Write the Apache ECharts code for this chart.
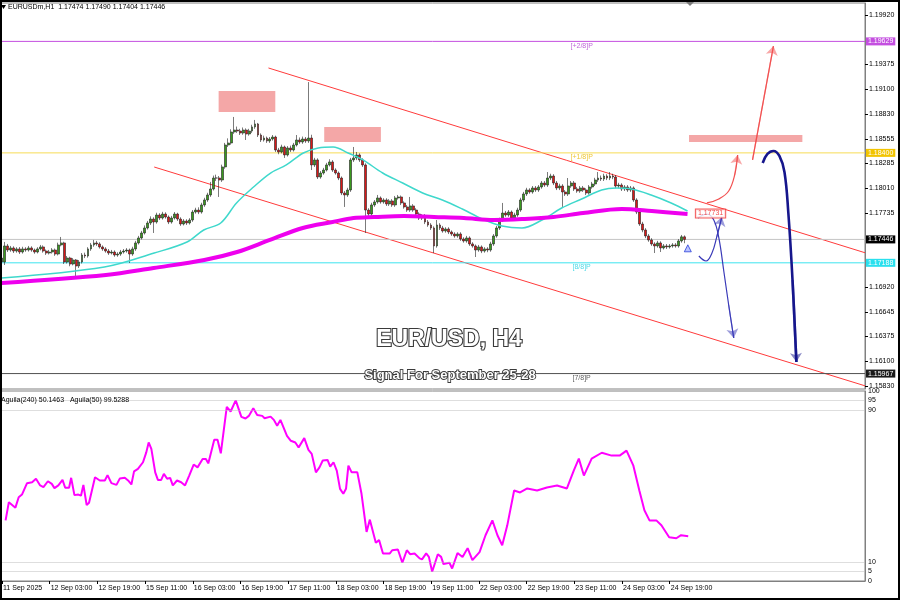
<!DOCTYPE html>
<html><head><meta charset="utf-8">
<script src="https://cdn.jsdelivr.net/npm/echarts@6/dist/echarts.min.js"></script>
<style>html,body{margin:0;padding:0;background:#fff}#c{width:900px;height:600px}</style>
</head><body><div id="c"></div>
<script>
// ---------- DATA ----------
const opens=[1.17197,1.17197,1.17374,1.17329,1.17352,1.17318,1.17341,1.17307,1.17341,1.17329,
1.17352,1.17329,1.17307,1.17341,1.17363,1.17318,1.17296,1.17307,1.17329,1.17285,
1.17385,1.17407,1.17197,1.17241,1.17175,1.17219,1.17153,1.17197,1.17274,1.17263,
1.17341,1.17385,1.17407,1.17396,1.17363,1.17341,1.17318,1.17296,1.17307,1.17274,
1.17285,1.17307,1.17318,1.17329,1.17285,1.17341,1.17407,1.17462,1.17517,1.17572,
1.17627,1.17671,1.17638,1.17715,1.17682,1.17726,1.17693,1.17638,1.17682,1.17726,
1.17671,1.17616,1.17649,1.17627,1.17660,1.17748,1.17770,1.17748,1.17826,1.17881,
1.17936,1.18002,1.18123,1.18123,1.18101,1.18245,1.18487,1.18509,1.18630,1.18652,
1.18641,1.18619,1.18652,1.18608,1.18641,1.18686,1.18719,1.18597,1.18542,1.18564,
1.18531,1.18553,1.18575,1.18432,1.18410,1.18465,1.18377,1.18454,1.18432,1.18487,
1.18542,1.18520,1.18553,1.18531,1.18564,1.18267,1.18322,1.18134,1.18178,1.18211,
1.18267,1.18300,1.18211,1.18178,1.18123,1.17958,1.17936,1.17991,1.18322,1.18344,
1.18377,1.18322,1.18267,1.17770,1.17726,1.17826,1.17859,1.17903,1.17859,1.17881,
1.17837,1.17870,1.17826,1.17903,1.17914,1.17848,1.17804,1.17770,1.17815,1.17770,
1.17726,1.17682,1.17704,1.17638,1.17605,1.17572,1.17374,1.17605,1.17572,1.17539,
1.17561,1.17528,1.17506,1.17484,1.17506,1.17451,1.17429,1.17462,1.17396,1.17374,
1.17329,1.17363,1.17318,1.17341,1.17329,1.17396,1.17484,1.17572,1.17660,1.17737,
1.17715,1.17748,1.17682,1.17715,1.17770,1.17881,1.17947,1.17991,1.17969,1.18013,
1.17991,1.18024,1.18068,1.18046,1.18123,1.18145,1.18068,1.18013,1.18035,1.17969,
1.17947,1.18035,1.18068,1.18002,1.17980,1.18013,1.17991,1.17958,1.18024,1.18057,
1.18101,1.18123,1.18112,1.18145,1.18123,1.18145,1.18134,1.18035,1.18046,1.18002,
1.18024,1.17991,1.18013,1.17881,1.17748,1.17616,1.17550,1.17484,1.17440,1.17396,
1.17374,1.17407,1.17352,1.17374,1.17363,1.17374,1.17385,1.17374,1.17429,1.17474];
const highs=[1.17263,1.17418,1.17396,1.17374,1.17370,1.17360,1.17362,1.17365,1.17360,1.17374,
1.17370,1.17345,1.17360,1.17385,1.17380,1.17335,1.17330,1.17350,1.17345,1.17410,
1.17473,1.17420,1.17263,1.17255,1.17240,1.17230,1.17219,1.17296,1.17300,1.17360,
1.17407,1.17440,1.17430,1.17415,1.17380,1.17360,1.17340,1.17330,1.17325,1.17305,
1.17330,1.17340,1.17350,1.17345,1.17365,1.17430,1.17485,1.17540,1.17600,1.17650,
1.17700,1.17690,1.17740,1.17735,1.17750,1.17745,1.17710,1.17705,1.17748,1.17740,
1.17690,1.17670,1.17668,1.17680,1.17770,1.17795,1.17800,1.17850,1.17905,1.17960,
1.18080,1.18150,1.18160,1.18145,1.18270,1.18510,1.18560,1.18660,1.18796,1.18690,
1.18665,1.18680,1.18670,1.18665,1.18710,1.18763,1.18730,1.18615,1.18590,1.18580,
1.18575,1.18597,1.18590,1.18455,1.18490,1.18480,1.18475,1.18480,1.18510,1.18597,
1.18570,1.18580,1.18575,1.19181,1.18600,1.18345,1.18340,1.18200,1.18235,1.18290,
1.18330,1.18320,1.18230,1.18195,1.18140,1.17980,1.18015,1.18345,1.18465,1.18410,
1.18395,1.18340,1.18285,1.17790,1.17850,1.17880,1.17936,1.17920,1.17900,1.17900,
1.17890,1.17890,1.17925,1.17936,1.17930,1.17865,1.17825,1.17914,1.17835,1.17790,
1.17745,1.17725,1.17725,1.17660,1.17625,1.17590,1.17660,1.17625,1.17595,1.17580,
1.17580,1.17545,1.17525,1.17525,1.17525,1.17470,1.17485,1.17480,1.17415,1.17390,
1.17385,1.17380,1.17360,1.17360,1.17420,1.17505,1.17595,1.17685,1.17848,1.17760,
1.17770,1.17765,1.17740,1.17795,1.17905,1.17970,1.18015,1.18010,1.18035,1.18035,
1.18045,1.18090,1.18090,1.18189,1.18170,1.18165,1.18090,1.18060,1.18055,1.17990,
1.18123,1.18090,1.18090,1.18025,1.18035,1.18035,1.18010,1.18045,1.18080,1.18125,
1.18189,1.18150,1.18170,1.18165,1.18189,1.18170,1.18155,1.18070,1.18065,1.18045,
1.18045,1.18035,1.18030,1.17900,1.17765,1.17640,1.17570,1.17505,1.17460,1.17415,
1.17430,1.17425,1.17395,1.17395,1.17395,1.17405,1.17405,1.17450,1.17495,1.17490];
const lows=[1.17175,1.17164,1.17307,1.17310,1.17296,1.17300,1.17285,1.17290,1.17310,1.17312,
1.17310,1.17288,1.17292,1.17325,1.17300,1.17275,1.17280,1.17290,1.17265,1.17270,
1.17370,1.17175,1.17180,1.17150,1.17160,1.17032,1.17131,1.17180,1.17240,1.17245,
1.17320,1.17365,1.17375,1.17345,1.17320,1.17300,1.17275,1.17280,1.17255,1.17255,
1.17265,1.17290,1.17300,1.17186,1.17265,1.17320,1.17390,1.17445,1.17500,1.17555,
1.17605,1.17517,1.17620,1.17660,1.17665,1.17675,1.17615,1.17620,1.17665,1.17650,
1.17595,1.17600,1.17605,1.17610,1.17640,1.17730,1.17725,1.17730,1.17805,1.17860,
1.17915,1.17985,1.18090,1.17914,1.18080,1.18225,1.18465,1.18490,1.18610,1.18620,
1.18597,1.18600,1.18542,1.18590,1.18620,1.18665,1.18575,1.18520,1.18525,1.18510,
1.18510,1.18535,1.18410,1.18385,1.18395,1.18344,1.18360,1.18410,1.18415,1.18470,
1.18500,1.18500,1.18510,1.18510,1.18211,1.18245,1.18112,1.18115,1.18160,1.18195,
1.18250,1.18190,1.18160,1.18100,1.17935,1.17804,1.17915,1.17970,1.18300,1.18320,
1.18300,1.18245,1.17517,1.17700,1.17705,1.17805,1.17840,1.17840,1.17840,1.17815,
1.17815,1.17805,1.17805,1.17885,1.17825,1.17785,1.17750,1.17750,1.17750,1.17705,
1.17660,1.17660,1.17615,1.17585,1.17550,1.17296,1.17355,1.17550,1.17520,1.17520,
1.17505,1.17485,1.17465,1.17465,1.17430,1.17410,1.17410,1.17375,1.17355,1.17252,
1.17310,1.17295,1.17300,1.17305,1.17310,1.17375,1.17465,1.17550,1.17640,1.17695,
1.17695,1.17655,1.17665,1.17695,1.17750,1.17860,1.17925,1.17950,1.17950,1.17970,
1.17970,1.18005,1.18025,1.18025,1.18100,1.18045,1.17990,1.17990,1.17804,1.17925,
1.17925,1.18015,1.17980,1.17960,1.17960,1.17970,1.17935,1.17940,1.18005,1.18035,
1.18080,1.18090,1.18090,1.18100,1.18100,1.18110,1.18010,1.18010,1.17980,1.17980,
1.17970,1.17970,1.17860,1.17725,1.17595,1.17525,1.17460,1.17420,1.17375,1.17296,
1.17355,1.17307,1.17335,1.17340,1.17345,1.17355,1.17355,1.17355,1.17410,1.17404];
const closes=[1.17241,1.17374,1.17329,1.17352,1.17318,1.17341,1.17307,1.17341,1.17329,1.17352,
1.17329,1.17307,1.17341,1.17363,1.17318,1.17296,1.17307,1.17329,1.17285,1.17385,
1.17407,1.17197,1.17241,1.17175,1.17219,1.17153,1.17197,1.17274,1.17263,1.17341,
1.17385,1.17407,1.17396,1.17363,1.17341,1.17318,1.17296,1.17307,1.17274,1.17285,
1.17307,1.17318,1.17329,1.17285,1.17341,1.17407,1.17462,1.17517,1.17572,1.17627,
1.17671,1.17638,1.17715,1.17682,1.17726,1.17693,1.17638,1.17682,1.17726,1.17671,
1.17616,1.17649,1.17627,1.17660,1.17748,1.17770,1.17748,1.17826,1.17881,1.17936,
1.18002,1.18123,1.18123,1.18101,1.18245,1.18487,1.18509,1.18630,1.18652,1.18641,
1.18619,1.18652,1.18608,1.18641,1.18686,1.18719,1.18597,1.18542,1.18564,1.18531,
1.18553,1.18575,1.18432,1.18410,1.18465,1.18377,1.18454,1.18432,1.18487,1.18542,
1.18520,1.18553,1.18531,1.18564,1.18267,1.18322,1.18134,1.18178,1.18211,1.18267,
1.18300,1.18211,1.18178,1.18123,1.17958,1.17936,1.17991,1.18322,1.18344,1.18377,
1.18322,1.18267,1.17770,1.17726,1.17826,1.17859,1.17903,1.17859,1.17881,1.17837,
1.17870,1.17826,1.17903,1.17914,1.17848,1.17804,1.17770,1.17815,1.17770,1.17726,
1.17682,1.17704,1.17638,1.17605,1.17572,1.17374,1.17605,1.17572,1.17539,1.17561,
1.17528,1.17506,1.17484,1.17506,1.17451,1.17429,1.17462,1.17396,1.17374,1.17329,
1.17363,1.17318,1.17341,1.17329,1.17396,1.17484,1.17572,1.17660,1.17737,1.17715,
1.17748,1.17682,1.17715,1.17770,1.17881,1.17947,1.17991,1.17969,1.18013,1.17991,
1.18024,1.18068,1.18046,1.18123,1.18145,1.18068,1.18013,1.18035,1.17969,1.17947,
1.18035,1.18068,1.18002,1.17980,1.18013,1.17991,1.17958,1.18024,1.18057,1.18101,
1.18123,1.18112,1.18145,1.18123,1.18145,1.18134,1.18035,1.18046,1.18002,1.18024,
1.17991,1.18013,1.17881,1.17748,1.17616,1.17550,1.17484,1.17440,1.17396,1.17374,
1.17407,1.17352,1.17374,1.17363,1.17374,1.17385,1.17374,1.17429,1.17474,1.17446];

// moving averages sampled along the bars: [bar, price]
const maFast=[[0,1.17021],[34.5,1.17142],[51.2,1.17296],[62.2,1.17418],[67.8,1.17550],[73.5,1.17627],[78.8,1.17848],[84.5,1.18024],[90.2,1.18178],[95.5,1.18267],[101.2,1.18399],[106.2,1.18454],[111.2,1.18465],[116.2,1.18399],[121.2,1.18322],[127.8,1.18178],[134.5,1.18068],[141.2,1.17958],[147.8,1.17881],[154.5,1.17781],[161.2,1.17671],[167.8,1.17594],[174.5,1.17572],[181.2,1.17660],[187.8,1.17792],[194.5,1.17892],[201.2,1.17991],[206.2,1.18013],[211.2,1.18002],[217.8,1.17936],[224.5,1.17848],[230,1.17759]];
const maSlow=[[0,1.16966],[35,1.17054],[51,1.17131],[68,1.17219],[79,1.17307],[90,1.17440],[101,1.17572],[111,1.17638],[118,1.17682],[125,1.17693],[135,1.17704],[145,1.17693],[155,1.17682],[165,1.17660],[175,1.17671],[185,1.17693],[195,1.17737],[208,1.17781],[218,1.17759],[230,1.17726]];

// Aguila oscillator: [bar, value]
const aguila=[[1.2,31.9],[2.3,41.5],[4.5,38.6],[5.6,44.1],[6.7,45.5],[8.4,51.5],[10.1,52],[11.4,53.8],[12.8,50.3],[13.9,49.4],[15.4,52.5],[16.7,51.1],[17.6,48.9],[18.9,50.3],[20.3,53.2],[21.2,49.1],[22.5,49.1],[23.2,54.3],[24.3,45.2],[25.6,45.5],[26.5,44.9],[27.3,50.6],[28.4,40],[29.2,41.2],[31.2,54.6],[32.8,52.9],[34.5,52.9],[35.4,55.7],[36.7,51.5],[38.4,50.6],[39.5,53.9],[41.2,54.3],[42.3,52.9],[43.4,50.8],[44.3,57.7],[45.6,59],[47.3,62.5],[48.4,67.7],[49.2,72.9],[50.1,69.5],[51.4,57.2],[52.3,53.2],[53.4,53.2],[54.3,56.4],[55.4,53.8],[56.4,54.3],[57.3,50.3],[58.7,52.9],[60.1,52],[61.4,50.3],[62.8,55.5],[64.3,61.3],[65.6,59.8],[67.3,64.2],[68.4,64.2],[69.2,61.9],[71.2,74.3],[72.3,74.3],[73.4,67.2],[75.4,91.6],[76.7,89.2],[78.4,95.1],[80.3,86.4],[81.7,85.5],[82.8,86.9],[84.3,90.9],[85.6,87.4],[87.3,86.9],[88.1,85.7],[90.1,86.5],[91.2,84.8],[92.3,81.7],[93.4,84.8],[95.6,76.4],[96.9,73.8],[98.4,72.9],[99.5,70.3],[101.4,75.2],[102.8,69],[103.9,66.9],[105.3,57.2],[106.5,59.8],[107.6,63.4],[109.2,63.7],[110.1,60.2],[111.2,62.5],[112.3,58.1],[113.4,48.5],[114.5,45.9],[115.4,48.5],[116.2,60.7],[117.3,57.2],[119.2,57.2],[120.6,45.9],[122.3,25.8],[123.4,32.3],[125.4,20.1],[126.5,21.5],[127.8,14.5],[130.1,14.5],[130.9,16.2],[132.8,16.6],[134.3,9.6],[135.8,16.2],[136.9,14.1],[138.4,14.5],[140.1,11.9],[140.9,11.4],[142.3,14.5],[143.2,12.7],[144.3,4.9],[146.2,14.1],[147.3,12.7],[148.1,8.9],[150.1,9.6],[151,6.6],[152.8,14.7],[154.5,12.6],[156.2,17.3],[157.8,11],[160.2,15.2],[162.2,24.1],[164.5,31.9],[166.2,24.1],[167.8,18.8],[169.5,29.3],[171.8,47.6],[173.8,46.6],[176.2,48.7],[179.5,47.6],[182.8,49.2],[186.2,50.3],[189.5,48.7],[191.8,58.1],[193.5,64.4],[195.2,55.5],[197.8,64.4],[201.2,67.5],[204.5,66],[207.2,66],[209.5,68.6],[211.8,60.7],[213.8,47.6],[215.5,37.2],[217.2,31.9],[219.5,31.9],[221.2,29.3],[223.8,23],[226.2,22.5],[227.8,24.1],[230.2,23.6]];

const priceTicks=[1.19920,1.19375,1.19100,1.18830,1.18555,1.18285,1.18010,1.17735,1.16920,1.16645,1.16375,1.16100,1.15830];
const oscTicks=[0,5,10,90,95,100];
const oscLevels=[95,90,10,5];
const timeTickBars=[0,16,32,48,64,80,96,112,128,144,160,176,192,208,224];
const timeTickLabels=['11 Sep 2025','12 Sep 03:00','12 Sep 19:00','15 Sep 11:00','16 Sep 03:00','16 Sep 19:00','17 Sep 11:00','18 Sep 03:00','18 Sep 19:00','19 Sep 11:00','22 Sep 03:00','22 Sep 19:00','23 Sep 11:00','24 Sep 03:00','24 Sep 19:00'];

const levelValues=[1.19629,1.18400,1.17446,1.17188,1.15967];
const levelTags=['[+2/8]P','[+1/8]P','','[8/8]P','[7/8]P'];
const upperChannel=[[89.5,1.19336],[289.5,1.17299]];
const lowerChannel=[[51.2,1.18244],[289.5,1.15832]];
const zones=[[[72.8,1.19082],[91.8,1.18851]],[[108.2,1.18685],[127.2,1.18520]],[[230.5,1.18597],[268.5,1.18520]]];
const arrowRedCurve=[[236.5,1.17848],[240.5,1.17892],[243.8,1.17980],[245.8,1.18156],[246.8,1.18377]];
const arrowRedUp=[[251.8,1.18322],[258.8,1.19578]];
const arrowNavy=[[255.2,1.18289],[256.8,1.18388],[258.8,1.18421],[260.8,1.18366],[262.5,1.18189],[263.8,1.17737],[265.2,1.16999],[266.5,1.16095]];
const arrowBlueDown=[[233.5,1.17682],[236.5,1.17726],[238.8,1.17660],[240.5,1.17462],[242.2,1.17087],[243.8,1.16723],[245.5,1.16359]];
const arrowBlueUp=[[233.8,1.17263],[236.2,1.17208],[238.2,1.17296],[239.8,1.17473],[241.5,1.17693]];
const targetPrice=[[232.8,1.17731]];
const signalMark=[[230.1,1.17348]];
const header='EURUSDm,H1  1.17474 1.17490 1.17404 1.17446';
const oscTitle='Aguila(240) 50.1463   Aguila(50) 99.5288';

// ---------- CHART ----------
const N=290;
const categories=Array.from({length:N},(_,i)=>i);
const candleData=closes.map((c,i)=>[opens[i],c,lows[i],highs[i]]);
const FONT='"Liberation Sans", Arial, sans-serif';
const lineColors=['#c44fe0','#f7dc55','#c4c4c4','#3ee4ef','#505050'];
const boxColors=['#c44fe0','#f2c400','#000000','#2ae0ee','#1a1a1a'];
const tagColors=['#b040d0','#e8b800','#000','#22d0e0','#333'];

function arrowHead(path){const n=path.length;return {coords:[path[n-2],path[n-1]]};}

const levelSeries=levelValues.map((v,i)=>({
  type:'line',name:'level'+i,xAxisIndex:2,yAxisIndex:0,data:[[-0.5,v],[N-0.5,v]],symbol:'none',silent:true,z:2,
  lineStyle:{color:lineColors[i],width:1},
  endLabel:{show:true,distance:1,formatter:()=>v.toFixed(5),fontSize:7,fontFamily:FONT,color:'#fff',backgroundColor:boxColors[i],padding:[1,2,0,2]}
}));

const chart=echarts.init(document.getElementById('c'),null,{renderer:'canvas',width:900,height:600});
chart.setOption({
  animation:false,
  backgroundColor:'#ffffff',
  grid:[
    {left:-5,top:3,width:870,height:386,show:true,borderColor:'#808080',borderWidth:1,backgroundColor:'#fff'},
    {left:-5,top:391,width:870,height:190,show:true,borderColor:'#808080',borderWidth:1,backgroundColor:'#fff'}
  ],
  xAxis:[
    {type:'category',gridIndex:0,data:categories,show:false,boundaryGap:true},
    {type:'value',gridIndex:1,min:-0.5,max:N-0.5,
      axisLine:{show:true,onZero:false,lineStyle:{color:'#808080'}},
      axisTick:{show:true,customValues:timeTickBars,length:3,lineStyle:{color:'#000'}},
      axisLabel:{show:true,customValues:timeTickBars,formatter:v=>timeTickLabels[timeTickBars.indexOf(Math.round(v))]||'',align:'left',fontSize:7,fontFamily:FONT,color:'#000',margin:4,padding:[0,0,0,1]},
      splitLine:{show:false}},
    {type:'value',gridIndex:0,min:-0.5,max:N-0.5,show:false,splitLine:{show:false}}
  ],
  yAxis:[
    {type:'value',gridIndex:0,position:'right',min:1.157969,max:1.200523,
      axisLine:{show:true,onZero:false,lineStyle:{color:'#808080'}},
      axisTick:{show:true,customValues:priceTicks,length:3,lineStyle:{color:'#000'}},
      axisLabel:{show:true,customValues:priceTicks,formatter:v=>v.toFixed(5),fontSize:7,fontFamily:FONT,color:'#000',margin:4},
      splitLine:{show:false}},
    {type:'value',gridIndex:1,position:'right',min:0,max:100,
      axisLine:{show:true,onZero:false,lineStyle:{color:'#808080'}},
      axisTick:{show:false},
      axisLabel:{show:true,customValues:oscTicks,fontSize:7,fontFamily:FONT,color:'#000',margin:3},
      splitLine:{show:false}}
  ],
  series:[
    {type:'line',name:'upperChannel',xAxisIndex:2,yAxisIndex:0,data:upperChannel,symbol:'none',
      lineStyle:{color:'#ff3b3b',width:1},z:1,
      markArea:{silent:true,itemStyle:{color:'#f4a7a7'},data:zones.map(z=>[{coord:z[0]},{coord:z[1]}])}},
    {type:'line',name:'lowerChannel',xAxisIndex:2,yAxisIndex:0,data:lowerChannel,symbol:'none',lineStyle:{color:'#ff3b3b',width:1},z:1},
    ...levelSeries,
    {type:'candlestick',name:'EURUSD',xAxisIndex:0,yAxisIndex:0,data:candleData,barWidth:2.4,z:3,
      itemStyle:{color:'#3a9a1e',color0:'#d81818',borderColor:'#222',borderColor0:'#222',borderWidth:0.6}},
    {type:'line',name:'MA fast',xAxisIndex:2,yAxisIndex:0,data:maFast,smooth:0.35,symbol:'none',lineStyle:{color:'#3fd8cc',width:1.5},z:4},
    {type:'line',name:'MA slow',xAxisIndex:2,yAxisIndex:0,data:maSlow,smooth:0.35,symbol:'none',lineStyle:{color:'#ee00ee',width:4},z:4},
    {type:'scatter',name:'tags',xAxisIndex:2,yAxisIndex:0,symbolSize:0,silent:true,z:5,
      data:levelValues.map((v,i)=>({value:[194.5,v],name:levelTags[i],label:{color:tagColors[i]}})).filter(d=>d.name),
      label:{show:true,position:'bottom',distance:1,formatter:'{b}',fontSize:7,fontFamily:FONT}},
    {type:'line',name:'arrowRedCurve',xAxisIndex:2,yAxisIndex:0,data:arrowRedCurve,smooth:0.4,symbol:'none',lineStyle:{color:'#f25050',width:1.2},z:6},
    {type:'line',name:'arrowRedUp',xAxisIndex:2,yAxisIndex:0,data:arrowRedUp,symbol:'none',lineStyle:{color:'#f25050',width:1.2},z:6},
    {type:'line',name:'arrowNavy',xAxisIndex:2,yAxisIndex:0,data:arrowNavy,smooth:0.4,symbol:'none',lineStyle:{color:'#16168c',width:2.6},z:6},
    {type:'line',name:'arrowBlueDown',xAxisIndex:2,yAxisIndex:0,data:arrowBlueDown,smooth:0.4,symbol:'none',lineStyle:{color:'#3a3ab8',width:1.2},z:6},
    {type:'line',name:'arrowBlueUp',xAxisIndex:2,yAxisIndex:0,data:arrowBlueUp,smooth:0.4,symbol:'none',lineStyle:{color:'#3a3ab8',width:1.2},z:6},
    {type:'lines',coordinateSystem:'cartesian2d',xAxisIndex:2,yAxisIndex:0,symbol:['none','arrow'],symbolSize:9,silent:true,z:7,
      data:[
        Object.assign(arrowHead(arrowRedCurve),{lineStyle:{color:'#f25050',width:1.2}}),
        Object.assign(arrowHead(arrowRedUp),{lineStyle:{color:'#f25050',width:1.2}}),
        Object.assign(arrowHead(arrowNavy),{lineStyle:{color:'#16168c',width:2.6}}),
        Object.assign(arrowHead(arrowBlueDown),{lineStyle:{color:'#3a3ab8',width:1.2}}),
        Object.assign(arrowHead(arrowBlueUp),{lineStyle:{color:'#3a3ab8',width:1.2}})
      ]},
    {type:'scatter',name:'target',xAxisIndex:2,yAxisIndex:0,data:targetPrice,symbolSize:0,silent:true,z:8,
      label:{show:true,position:'right',distance:0,formatter:p=>p.value[1].toFixed(5),fontSize:7,fontFamily:FONT,color:'#f02020',backgroundColor:'#fff',borderColor:'#f03030',borderWidth:1,padding:[1,2,0,2]}},
    {type:'scatter',name:'signal',xAxisIndex:2,yAxisIndex:0,data:signalMark,symbol:'triangle',symbolSize:[7,7],silent:true,z:8,
      itemStyle:{color:'#a8b4ff',borderColor:'#2a40d8',borderWidth:1}},
    {type:'line',name:'Aguila',xAxisIndex:1,yAxisIndex:1,data:aguila,symbol:'none',lineStyle:{color:'#ff00ff',width:2},z:4,
      markLine:{silent:true,precision:2,symbol:['none','none'],label:{show:false},lineStyle:{color:'#bdbdbd',type:'dotted',width:1},
        data:oscLevels.map(v=>({yAxis:v}))}}
  ],
  graphic:[
    {type:'polygon',z:100,shape:{points:[[1,5],[6,5],[3.5,9]]},style:{fill:'#000'}},
    {type:'text',z:100,left:8,top:4,style:{text:header,font:'7px '+FONT,fill:'#000'}},
    {type:'text',z:100,left:1,top:397,style:{text:oscTitle,font:'7px '+FONT,fill:'#000'}},
    {type:'polygon',z:100,shape:{points:[[685,1],[695,1],[690,6]]},style:{fill:'#7a7a7a'}},
    {type:'text',z:100,x:449,y:340,style:{text:'EUR/USD, H4',font:'bold 23px '+FONT,fill:'#ffffff',stroke:'#3a3a3a',lineWidth:2.2,align:'center',verticalAlign:'middle',shadowColor:'rgba(0,0,0,0.45)',shadowOffsetX:2,shadowOffsetY:2,shadowBlur:2}},
    {type:'text',z:100,x:450,y:375,style:{text:'Signal For September 25-28',font:'bold 13px '+FONT,fill:'#ffffff',stroke:'#3a3a3a',lineWidth:1.8,align:'center',verticalAlign:'middle',shadowColor:'rgba(0,0,0,0.4)',shadowOffsetX:1.5,shadowOffsetY:1.5,shadowBlur:1.5}},
    {type:'rect',z:101,shape:{x:1,y:1,width:898,height:598},style:{fill:'none',stroke:'#000',lineWidth:2}}
  ]
});
</script></body></html>
